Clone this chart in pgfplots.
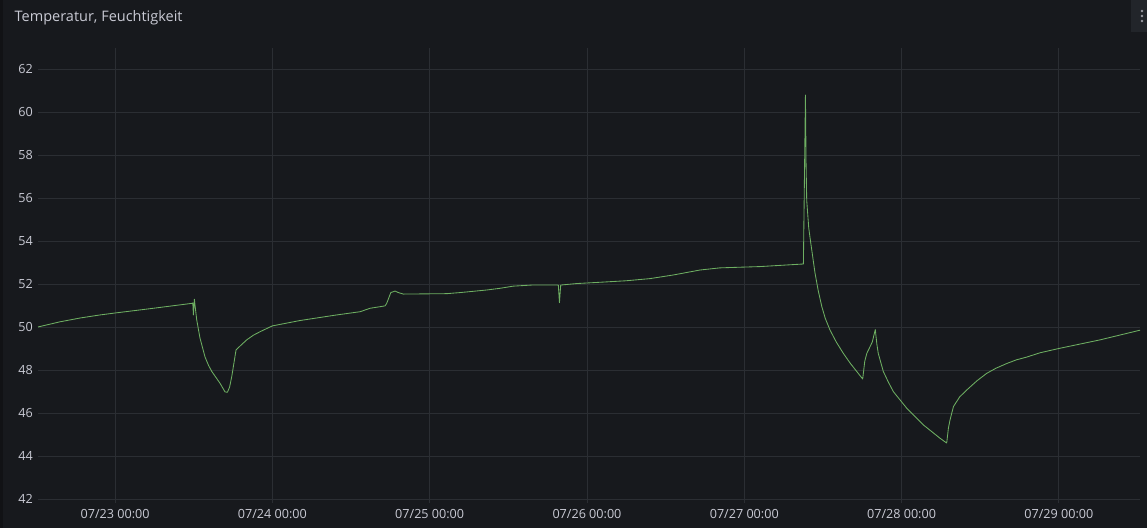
\documentclass[border=0pt]{standalone}
\usepackage{fontspec}
\setmainfont{Open Sans}
\usepackage{pgfplots}
\pgfplotsset{compat=1.18}
\definecolor{bg}{HTML}{17191D}
\definecolor{edgec}{HTML}{111215}
\definecolor{menuc}{HTML}{22252A}
\definecolor{dotc}{HTML}{9A9BA3}
\definecolor{gridc}{HTML}{2B2E33}
\definecolor{textc}{HTML}{C9CAD4}
\definecolor{linec}{HTML}{6EAF62}
\begin{document}
\begin{tikzpicture}[x=1bp,y=1bp]
\fill[bg] (0,0) rectangle (1147,528);
\fill[edgec] (0,0) rectangle (3,528);
\fill[menuc] (1131,496) rectangle (1147,528);
\foreach \yy in {517,512,507} \fill[dotc] (1142,\yy) circle (1.3);
\node[anchor=base west, font=\fontsize{14.5bp}{16bp}\selectfont, text=textc, inner sep=0pt] at (14.5,506) {Temperatur, Feuchtigkeit};
\begin{axis}[
  at={(38bp,25bp)}, anchor=south west,
  scale only axis, width=1102bp, height=455bp,
  xmin=-0.49, xmax=6.516, ymin=41.81, ymax=62.98,
  xtick={0,1,2,3,4,5,6},
  xticklabels={07/23 00:00,07/24 00:00,07/25 00:00,07/26 00:00,07/27 00:00,07/28 00:00,07/29 00:00},
  ytick={42,44,...,62},
  grid=major,
  grid style={color=gridc, line width=0.8bp},
  axis line style={draw=none},
  major tick length=0pt,
  /pgf/number format/assume math mode=true,
  tick label style={font=\fontsize{12.6bp}{14bp}\selectfont, text=textc},
  yticklabel style={anchor=east, inner sep=0pt, xshift=-5bp},
  xticklabel style={anchor=center, inner sep=0pt, yshift=-11bp},
  clip=false,
]
\addplot[color=linec, line width=0.85bp, line join=round] coordinates {
(-0.49,50.0) (-0.42,50.12) (-0.35,50.24) (-0.22,50.42) (-0.095,50.56) (0,50.65) (0.222,50.85)
(0.490,51.1) (0.494,51.12) (0.498,50.56) (0.504,51.29) (0.519,50.33) (0.540,49.48) (0.572,48.6)
(0.595,48.2) (0.615,47.93) (0.668,47.37) (0.699,46.98) (0.714,46.96) (0.728,47.2) (0.742,47.7) (0.769,48.93)
(0.80,49.15) (0.837,49.4) (0.88,49.62) (0.922,49.78) (0.985,50.0) (1.0,50.05) (1.176,50.3) (1.40,50.55) (1.558,50.71)
(1.621,50.87) (1.716,50.98) (1.727,51.1) (1.753,51.6) (1.780,51.67) (1.801,51.6)
(1.833,51.53) (2.109,51.55) (2.193,51.6) (2.363,51.72) (2.448,51.8) (2.532,51.9)
(2.649,51.95) (2.818,51.95) (2.825,51.13) (2.833,51.95) (2.935,52.02) (3.083,52.08)
(3.25,52.15) (3.401,52.25) (3.55,52.42) (3.719,52.65) (3.846,52.75) (4.101,52.81) (4.376,52.93) (4.389,60.79)
(4.393,57.6) (4.397,55.9) (4.410,54.6) (4.423,53.9) (4.450,52.5) (4.470,51.7) (4.493,50.95) (4.515,50.4) (4.545,49.86) (4.585,49.3) (4.630,48.77)
(4.675,48.3) (4.715,47.93) (4.753,47.58) (4.766,48.4) (4.779,48.77) (4.814,49.3) (4.833,49.88) (4.843,49.2) (4.852,48.77)
(4.884,47.93) (4.915,47.45) (4.948,46.99) (5.033,46.22) (5.139,45.44) (5.245,44.82) (5.287,44.6)
(5.298,45.3) (5.308,45.67) (5.330,46.3) (5.37,46.75) (5.415,47.07) (5.48,47.5) (5.541,47.84) (5.60,48.08) (5.669,48.3) (5.73,48.47) (5.796,48.6)
(5.881,48.8) (6.001,49.0) (6.262,49.4) (6.516,49.85)
};
\end{axis}
\end{tikzpicture}
\end{document}
